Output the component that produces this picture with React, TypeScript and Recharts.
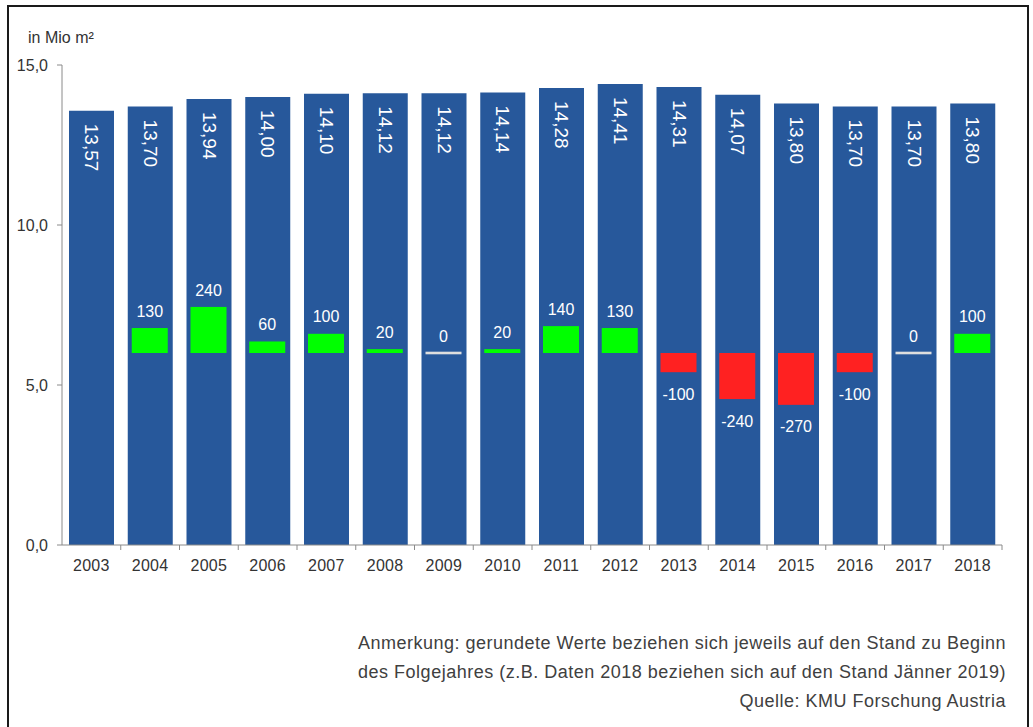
import React from 'react';
import { BarChart, Bar, XAxis, YAxis, LabelList } from 'recharts';

const years = ['2003', '2004', '2005', '2006', '2007', '2008', '2009', '2010', '2011', '2012', '2013', '2014', '2015', '2016', '2017', '2018'];
const areaMio = [13.57, 13.7, 13.94, 14.0, 14.1, 14.12, 14.12, 14.14, 14.28, 14.41, 14.31, 14.07, 13.8, 13.7, 13.7, 13.8];
const changeThousand: (number | null)[] = [null, 130, 240, 60, 100, 20, 0, 20, 140, 130, -100, -240, -270, -100, 0, 100];
const yTicks = [0, 5, 10, 15];
const noteLines = [
  'Anmerkung: gerundete Werte beziehen sich jeweils auf den Stand zu Beginn',
  'des Folgejahres (z.B. Daten 2018 beziehen sich auf den Stand Jänner 2019)',
  'Quelle: KMU Forschung Austria',
];

const data = years.map((year, i) => ({ year, area: areaMio[i], change: changeThousand[i] }));

const FONT = '"Liberation Sans", Arial, Helvetica, sans-serif';
const BLUE = '#27589B';
const GREEN = '#00FF00';
const RED = '#FF2121';
const AXIS = '#8a8a8a';
const TEXT = '#333333';

const W = 1033;
const H = 727;
const PLOT_LEFT = 62;
const PLOT_RIGHT = 1002;
const BAND = (PLOT_RIGHT - PLOT_LEFT) / years.length;

const fmt = (v: number, d: number) => v.toFixed(d).replace('.', ',');

const ChangeShape = (props: any) => {
  const { x, y, width, height, payload } = props;
  const v = payload ? payload.change : null;
  if (v === null || v === undefined) return null;
  if (v === 0) {
    return <rect x={x} y={y - 1.3} width={width} height={2.6} fill="#dedede" />;
  }
  const top = Math.min(y, y + height);
  const h = Math.abs(height);
  return <rect x={x} y={top} width={width} height={h} fill={v > 0 ? GREEN : RED} />;
};

const ChangeLabel = (props: any) => {
  const { x, y, width, height, value } = props;
  if (value === null || value === undefined) return null;
  const top = Math.min(y, y + height);
  const bottom = Math.max(y, y + height);
  const cx = x + width / 2;
  const ty = value >= 0 ? top - 17 : bottom + 22;
  return (
    <text x={cx} y={ty} dy="0.35em" textAnchor="middle" fill="#ffffff" fontSize={16} fontFamily={FONT}>
      {String(value)}
    </text>
  );
};

const AreaLabel = (props: any) => {
  const { x, y, width, value } = props;
  const cx = x + width / 2;
  const sy = y + 13;
  return (
    <text
      x={cx}
      y={sy}
      transform={`rotate(90, ${cx}, ${sy})`}
      textAnchor="start"
      dominantBaseline="central"
      fill="#ffffff"
      fontSize={19}
      fontFamily={FONT}
    >
      {fmt(value, 2)}
    </text>
  );
};

const XTick = (props: any) => {
  const { x, y, payload, index } = props;
  const left = x - BAND / 2;
  const right = x + BAND / 2;
  return (
    <g>
      {index > 0 && <line x1={left} x2={left} y1={y} y2={y + 5} stroke={AXIS} strokeWidth={1} />}
      {index === years.length - 1 && <line x1={right} x2={right} y1={y} y2={y + 5} stroke={AXIS} strokeWidth={1} />}
      <text x={x} y={y + 26} textAnchor="middle" fill={TEXT} fontSize={16} letterSpacing={0.3} fontFamily={FONT}>
        {payload.value}
      </text>
    </g>
  );
};

export default function App() {
  return (
    <div style={{ position: 'absolute', left: 0, top: 0, width: W, height: H, background: '#ffffff', overflow: 'hidden', fontFamily: FONT }}>
      <div style={{ position: 'absolute', left: 7, top: 5, width: 1022, height: 740, border: '2px solid #1a1a1a', boxSizing: 'border-box' }} />
      <div style={{ position: 'absolute', left: 28, top: 29, fontSize: 16, color: TEXT, whiteSpace: 'nowrap', lineHeight: '18px' }}>
        in Mio m²
      </div>
      <div style={{ position: 'absolute', left: 0, top: 0 }}>
        <BarChart
          width={W}
          height={H}
          data={data}
          margin={{ top: 65, right: W - PLOT_RIGHT, bottom: 152, left: 0 }}
        >
          <XAxis
            xAxisId="a"
            dataKey="year"
            height={30}
            axisLine={{ stroke: AXIS }}
            tickLine={false}
            tickSize={0}
            tickMargin={0}
            tick={<XTick />}
            interval={0}
          />
          <XAxis xAxisId="b" dataKey="year" hide />
          <YAxis
            yAxisId="l"
            width={PLOT_LEFT}
            domain={[0, 15]}
            ticks={yTicks}
            tickFormatter={(v: number) => fmt(v, 1)}
            axisLine={{ stroke: AXIS }}
            tickLine={{ stroke: AXIS }}
            tickSize={5}
            tickMargin={9}
            tick={{ fill: TEXT, fontSize: 16, fontFamily: FONT }}
          />
          <YAxis yAxisId="r" hide domain={[-1000, 1500]} allowDataOverflow />
          <Bar xAxisId="a" yAxisId="l" dataKey="area" fill={BLUE} barSize={45} isAnimationActive={false}>
            <LabelList dataKey="area" content={<AreaLabel />} />
          </Bar>
          <Bar xAxisId="b" yAxisId="r" dataKey="change" barSize={36} shape={<ChangeShape />} isAnimationActive={false}>
            <LabelList dataKey="change" content={<ChangeLabel />} />
          </Bar>
        </BarChart>
      </div>
      <div
        style={{
          position: 'absolute',
          right: W - 1006,
          top: 629,
          textAlign: 'right',
          fontSize: 18,
          letterSpacing: 0.5,
          lineHeight: '29px',
          color: '#404040',
          whiteSpace: 'nowrap',
        }}
      >
        {noteLines.map((l, i) => (
          <div key={i}>{l}</div>
        ))}
      </div>
    </div>
  );
}
